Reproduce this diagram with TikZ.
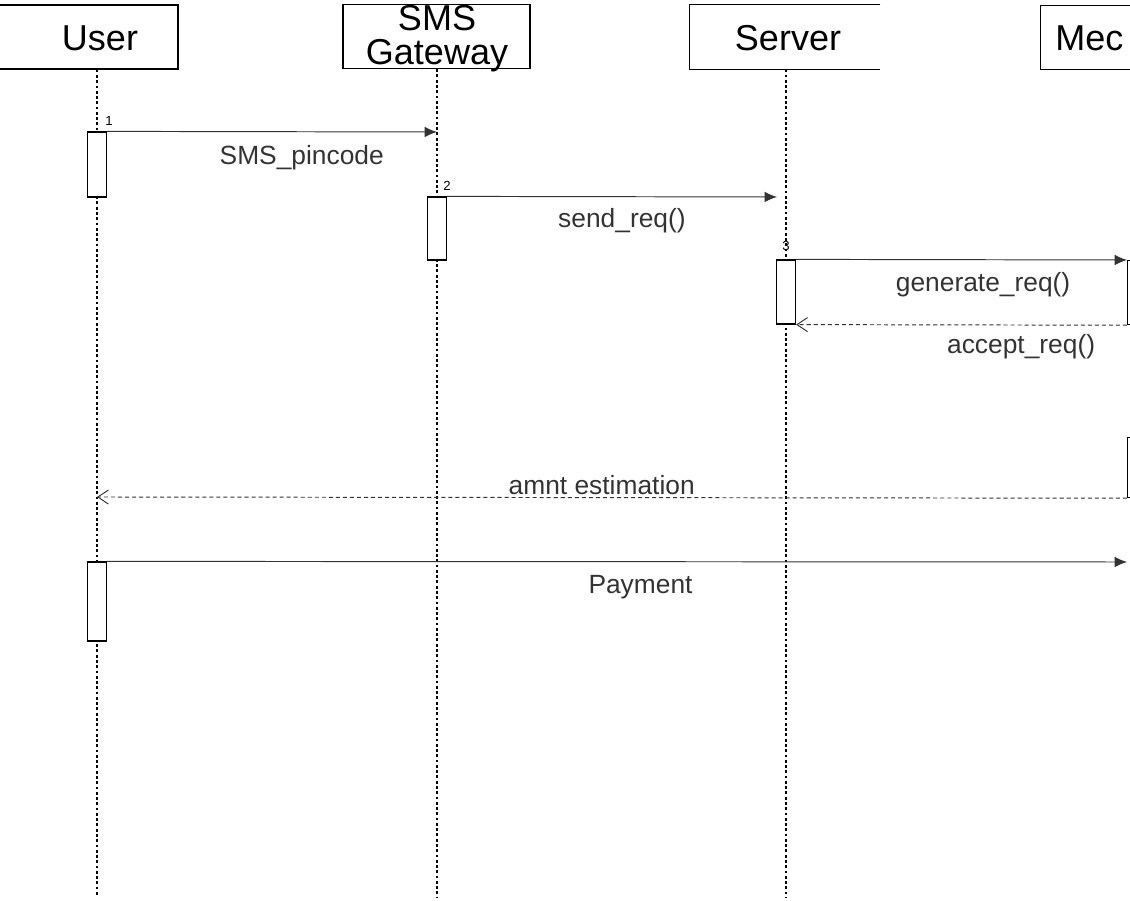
\documentclass[tikz,border=0pt]{standalone}
\usepackage{fontspec}
\setmainfont{Liberation Sans}
\usetikzlibrary{arrows.meta}
\usetikzlibrary{positioning}

\tikzset{
  headbox/.style={draw, line width=0.8pt, inner sep=0pt, minimum height=1.28cm},
  headtxt/.style={font=\fontsize{20.5}{22}\selectfont, inner sep=0pt, anchor=base},
  actbox/.style={draw, fill=white, line width=0.7pt, inner sep=0pt, minimum width=0.38cm},
  lifeline/.style={line width=0.6pt, dash pattern=on 1.6pt off 1.4pt},
  call/.style={draw=black!80, line width=0.55pt, -{Latex[length=7pt,width=6pt]}},
  reply/.style={draw=black!80, line width=0.55pt, dash pattern=on 2.3pt off 1.7pt, -{Straight Barb[length=6pt,width=8pt]}},
  msglabel/.style={font=\fontsize{15}{17}\selectfont, text=black!80},
  seqno/.style={font=\fontsize{7.5}{8}\selectfont, inner sep=0pt},
}

\begin{document}
\begin{tikzpicture}[x=0.02cm, y=-0.02cm]
\useasboundingbox (0,0) rectangle (1130,901);

% headers
\node[headbox, minimum width=4cm] (user) at (78,37) {};
\node[headtxt] (usertxt) at (100,51) {User};
\node[headbox, minimum width=3.74cm] (sms) at (436.5,36.5) {};
\node[headtxt] (smstxt) at (437,31) {SMS};
\node[headtxt] (gwtxt) at (437,65) {Gateway};
\node[inner sep=0pt, minimum width=3.8cm, minimum height=1.28cm] (srv) at (785,37) {};
\draw[line width=0.8pt] (srv.north east) -- (srv.north west) -- (srv.south west) -- (srv.south east);
\node[headtxt] (srvtxt) at (788,51) {Server};
\node[headbox, minimum width=3cm, anchor=north west] (mec) at (1040,5) {};
\node[headtxt, anchor=base west] (mectxt) at (1055,51) {Mec};

% lifelines
\coordinate (uEnd) at (97,897);
\coordinate (sEnd) at (437,897);
\coordinate (vEnd) at (786,897);
\draw[lifeline] (user.south -| uEnd) -- (uEnd);
\draw[lifeline] (sms.south -| sEnd) -- (sEnd);
\draw[lifeline] (srv.south -| vEnd) -- (vEnd);

% activations
\node[actbox, minimum height=1.3cm] (ua1) at (97,164.5) {};
\node[actbox, minimum height=1.26cm] (sa1) at (437,228.5) {};
\node[actbox, minimum height=1.28cm] (va1) at (786,292) {};
\node[actbox, minimum height=1.28cm, anchor=north west] (ma1) at (1127,260) {};
\node[actbox, minimum height=1.2cm, anchor=north west] (ma2) at (1127,437) {};
\node[actbox, minimum height=1.58cm] (ua2) at (97,601.5) {};

% messages
\coordinate (s1) at (437,132);
\coordinate (v1) at (777,197);
\coordinate (u1) at (97,497);
\coordinate (m1) at (1127,562);
\draw[call] (ua1.north east) -- (s1) node[pos=0.59, yshift=-0.52cm, msglabel] (lab1) {SMS\_pincode};
\draw[call] (sa1.north east) -- (v1) node[pos=0.53, yshift=-0.48cm, msglabel] (lab2) {send\_req()};
\draw[call] (va1.north east) -- (ma1.north west) node[pos=0.565, yshift=-0.5cm, msglabel] (lab3) {generate\_req()};
\draw[reply] (ma1.south west) -- (va1.south east) node[pos=0.32, yshift=-0.44cm, msglabel] (lab4) {accept\_req()};
\draw[reply] (ma2.south west) -- (u1) node[pos=0.51, yshift=0.26cm, msglabel] (lab5) {amnt estimation};
\draw[call] (ua2.north east) -- (m1) node[pos=0.523, yshift=-0.5cm, msglabel] (lab6) {Payment};

% sequence numbers
\node[seqno, anchor=south west, xshift=0.16cm, yshift=0.12cm] (n1) at (ua1.north) {1};
\node[seqno, anchor=south west, xshift=0.12cm, yshift=0.12cm] (n2) at (sa1.north) {2};
\node[seqno, anchor=south, yshift=0.16cm] (n3) at (va1.north) {3};
\end{tikzpicture}
\end{document}
